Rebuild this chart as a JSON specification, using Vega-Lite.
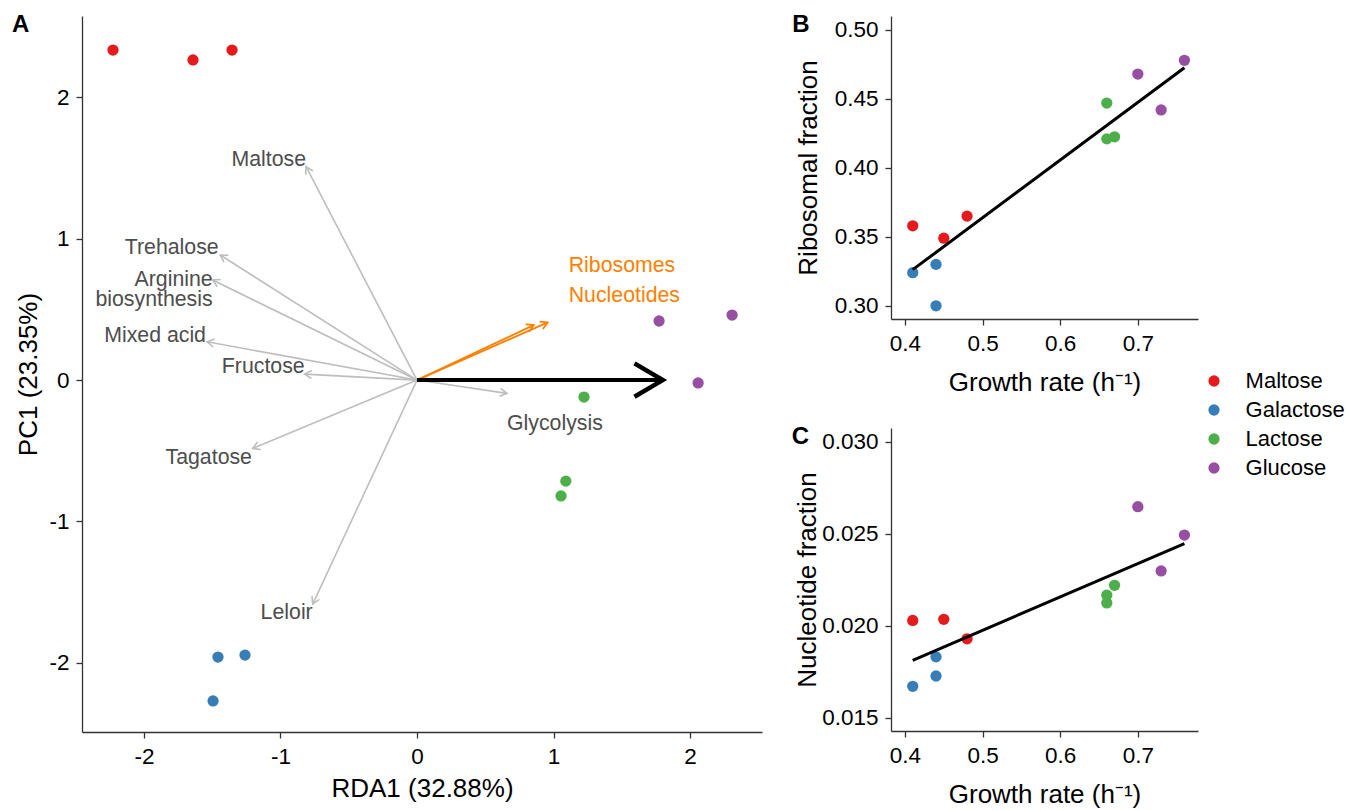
{
  "$schema": "https://vega.github.io/schema/vega-lite/v6.json",
  "autosize": {"type": "pad"},
  "padding": {"left": 11, "top": 13, "right": 5, "bottom": 5},
  "background": "white",
  "config": {
    "font": "Liberation Sans",
    "view": {"stroke": null},
    "axis": {
      "grid": false,
      "domainColor": "#333333",
      "domainWidth": 1.3,
      "tickColor": "#333333",
      "tickWidth": 1.3,
      "tickSize": 6,
      "labelFont": "Liberation Sans",
      "labelFontSize": 22.5,
      "labelColor": "#000000",
      "labelPadding": 7,
      "labelFlush": false,
      "labelOverlap": false,
      "titleFont": "Liberation Sans",
      "titleFontSize": 26,
      "titleFontWeight": "normal",
      "titleColor": "#000000"
    },
    "title": {
      "font": "Liberation Sans",
      "fontSize": 24,
      "fontWeight": "bold",
      "color": "#000000",
      "anchor": "start",
      "frame": "bounds"
    }
  },
  "datasets": {
    "samples": [
      {"sugar": "Maltose", "rda1": -2.227, "pc1": 2.335},
      {"sugar": "Maltose", "rda1": -1.641, "pc1": 2.265},
      {"sugar": "Maltose", "rda1": -1.355, "pc1": 2.335},
      {"sugar": "Galactose", "rda1": -1.458, "pc1": -1.96},
      {"sugar": "Galactose", "rda1": -1.26, "pc1": -1.946},
      {"sugar": "Galactose", "rda1": -1.494, "pc1": -2.27},
      {"sugar": "Lactose", "rda1": 1.223, "pc1": -0.12},
      {"sugar": "Lactose", "rda1": 1.09, "pc1": -0.715},
      {"sugar": "Lactose", "rda1": 1.055, "pc1": -0.82},
      {"sugar": "Glucose", "rda1": 1.773, "pc1": 0.418},
      {"sugar": "Glucose", "rda1": 2.308, "pc1": 0.46},
      {"sugar": "Glucose", "rda1": 2.059, "pc1": -0.02}
    ],
    "arrows": [
      {"name": "Maltose", "kind": "pathway", "x": -0.813, "y": 1.51},
      {"name": "Trehalose", "kind": "pathway", "x": -1.441, "y": 0.885},
      {"name": "Arginine biosynthesis", "kind": "pathway", "x": -1.497, "y": 0.708},
      {"name": "Mixed acid", "kind": "pathway", "x": -1.538, "y": 0.271},
      {"name": "Fructose", "kind": "pathway", "x": -0.823, "y": 0.042},
      {"name": "Tagatose", "kind": "pathway", "x": -1.204, "y": -0.484},
      {"name": "Leloir", "kind": "pathway", "x": -0.764, "y": -1.585},
      {"name": "Glycolysis", "kind": "pathway", "x": 0.659, "y": -0.094},
      {"name": "Ribosomes", "kind": "response", "x": 0.957, "y": 0.408},
      {"name": "Nucleotides", "kind": "response", "x": 0.855, "y": 0.389},
      {"name": "Growth rate", "kind": "growth", "x": 1.8, "y": 0}
    ],
    "labels": [
      {"label": "Maltose", "kind": "pathway", "lx": -0.813, "ly": 1.557},
      {"label": "Trehalose", "kind": "pathway", "lx": -1.453, "ly": 0.936},
      {"label": "Arginine\nbiosynthesis", "kind": "pathway", "lx": -1.497, "ly": 0.708},
      {"label": "Mixed acid", "kind": "pathway", "lx": -1.546, "ly": 0.315},
      {"label": "Fructose", "kind": "pathway", "lx": -0.823, "ly": 0.094},
      {"label": "Tagatose", "kind": "pathway", "lx": -1.209, "ly": -0.554},
      {"label": "Leloir", "kind": "pathway", "lx": -0.764, "ly": -1.647},
      {"label": "Glycolysis", "kind": "pathway", "lx": 0.659, "ly": -0.311},
      {"label": "Ribosomes", "kind": "response", "lx": 1.111, "ly": 0.809},
      {"label": "Nucleotides", "kind": "response", "lx": 1.111, "ly": 0.597}
    ],
    "growth": [
      {"sugar": "Maltose", "growth": 0.41, "ribo": 0.358, "nucl": 0.0203},
      {"sugar": "Maltose", "growth": 0.45, "ribo": 0.349, "nucl": 0.02036},
      {"sugar": "Maltose", "growth": 0.48, "ribo": 0.365, "nucl": 0.0193},
      {"sugar": "Galactose", "growth": 0.41, "ribo": 0.324, "nucl": 0.01672},
      {"sugar": "Galactose", "growth": 0.44, "ribo": 0.330, "nucl": 0.01832},
      {"sugar": "Galactose", "growth": 0.44, "ribo": 0.300, "nucl": 0.01728},
      {"sugar": "Lactose", "growth": 0.66, "ribo": 0.447, "nucl": 0.02167},
      {"sugar": "Lactose", "growth": 0.66, "ribo": 0.421, "nucl": 0.02125},
      {"sugar": "Lactose", "growth": 0.67, "ribo": 0.4225, "nucl": 0.02221},
      {"sugar": "Glucose", "growth": 0.70, "ribo": 0.468, "nucl": 0.02648},
      {"sugar": "Glucose", "growth": 0.73, "ribo": 0.442, "nucl": 0.02299},
      {"sugar": "Glucose", "growth": 0.76, "ribo": 0.478, "nucl": 0.02494}
    ]
  },
  "bounds": "flush",
  "spacing": 129,
  "resolve": {"scale": {"color": "shared"}},
  "hconcat": [
    {
      "width": 680,
      "height": 716,
      "title": {"text": "A", "fontSize": 24, "fontWeight": "bold", "baseline": "alphabetic", "dx": -4, "dy": 24, "offset": -16},
      "layer": [
        {
          "mark": {"type": "rule", "color": "#000000", "strokeWidth": 1.3, "strokeDash": [1.3, 4]},
          "encoding": {
            "x": {"datum": 0, "type": "quantitative", "scale": {"domain": [-2.454, 2.527], "nice": false, "zero": false},
                  "axis": {"values": [-2, -1, 0, 1, 2], "title": "RDA1 (32.88%)", "titlePadding": 8,
                           "labelExpr": "datum.value < 0 ? '-' + abs(datum.value) : '' + datum.value"}}
          }
        },
        {
          "mark": {"type": "rule", "color": "#000000", "strokeWidth": 1.3, "strokeDash": [1.3, 4]},
          "encoding": {
            "y": {"datum": 0, "type": "quantitative", "scale": {"domain": [-2.49, 2.576], "nice": false, "zero": false},
                  "axis": {"values": [-2, -1, 0, 1, 2], "title": "PC1 (23.35%)", "titlePadding": 7,
                           "labelExpr": "datum.value < 0 ? '-' + abs(datum.value) : '' + datum.value"}}
          }
        },
        {
          "data": {"name": "arrows"},
          "transform": [{"filter": "datum.kind == 'pathway'"}],
          "mark": {"type": "rule", "color": "#BEBEBE", "strokeWidth": 1.6},
          "encoding": {
            "x": {"field": "x", "type": "quantitative"},
            "y": {"field": "y", "type": "quantitative"},
            "x2": {"datum": 0},
            "y2": {"datum": 0}
          }
        },
        {
          "data": {"name": "arrows"},
          "transform": [
            {"filter": "datum.kind == 'pathway'"},
            {"calculate": "atan2(-datum.y * 1.035, datum.x) * 180 / PI", "as": "ang"}
          ],
          "mark": {"type": "point", "shape": "M-1,-0.577L0,0L-1,0.577", "filled": false, "stroke": "#BEBEBE", "strokeWidth": 1.6, "size": 196, "opacity": 1},
          "encoding": {
            "x": {"field": "x", "type": "quantitative"},
            "y": {"field": "y", "type": "quantitative"},
            "angle": {"field": "ang", "type": "quantitative", "scale": null}
          }
        },
        {
          "data": {"name": "arrows"},
          "transform": [{"filter": "datum.kind == 'response'"}],
          "mark": {"type": "rule", "color": "#FF7F00", "strokeWidth": 1.8},
          "encoding": {
            "x": {"field": "x", "type": "quantitative"},
            "y": {"field": "y", "type": "quantitative"},
            "x2": {"datum": 0},
            "y2": {"datum": 0}
          }
        },
        {
          "data": {"name": "arrows"},
          "transform": [
            {"filter": "datum.kind == 'response'"},
            {"calculate": "atan2(-datum.y * 1.035, datum.x) * 180 / PI", "as": "ang"}
          ],
          "mark": {"type": "point", "shape": "M-1,-0.577L0,0L-1,0.577", "filled": false, "stroke": "#FF7F00", "strokeWidth": 1.8, "size": 196, "opacity": 1},
          "encoding": {
            "x": {"field": "x", "type": "quantitative"},
            "y": {"field": "y", "type": "quantitative"},
            "angle": {"field": "ang", "type": "quantitative", "scale": null}
          }
        },
        {
          "data": {"name": "arrows"},
          "transform": [{"filter": "datum.kind == 'growth'"}],
          "mark": {"type": "rule", "color": "#000000", "strokeWidth": 4},
          "encoding": {
            "x": {"field": "x", "type": "quantitative"},
            "y": {"field": "y", "type": "quantitative"},
            "x2": {"datum": 0},
            "y2": {"datum": 0}
          }
        },
        {
          "data": {"name": "arrows"},
          "transform": [
            {"filter": "datum.kind == 'growth'"},
            {"calculate": "atan2(-datum.y * 1.035, datum.x) * 180 / PI", "as": "ang"}
          ],
          "mark": {"type": "point", "shape": "M-1,-0.59L0,0L-1,0.59", "filled": false, "stroke": "#000000", "strokeWidth": 4.5, "size": 3200, "opacity": 1},
          "encoding": {
            "x": {"field": "x", "type": "quantitative"},
            "y": {"field": "y", "type": "quantitative"},
            "angle": {"field": "ang", "type": "quantitative", "scale": null}
          }
        },
        {
          "data": {"name": "samples"},
          "mark": {"type": "circle", "size": 127, "opacity": 1},
          "encoding": {
            "x": {"field": "rda1", "type": "quantitative"},
            "y": {"field": "pc1", "type": "quantitative"},
            "color": {"field": "sugar", "type": "nominal",
                      "scale": {"domain": ["Maltose", "Galactose", "Lactose", "Glucose"], "range": ["#E41A1C", "#377EB8", "#4DAF4A", "#984EA3"]},
                      "legend": {"orient": "none", "legendX": 1121, "legendY": 354, "title": null, "padding": 0,
                                 "labelFont": "Liberation Sans", "labelFontSize": 22, "labelColor": "#000000",
                                 "symbolSize": 127, "symbolType": "circle", "symbolStrokeWidth": 0,
                                 "labelOffset": 20.6, "rowPadding": 7}}
          }
        },
        {
          "data": {"name": "labels"},
          "transform": [{"filter": "datum.kind == 'pathway' && datum.lx < 0"}],
          "mark": {"type": "text", "align": "right", "baseline": "middle", "fontSize": 21.3, "color": "#4D4D4D", "lineBreak": "\n", "lineHeight": 20},
          "encoding": {
            "x": {"field": "lx", "type": "quantitative"},
            "y": {"field": "ly", "type": "quantitative"},
            "text": {"field": "label"}
          }
        },
        {
          "data": {"name": "labels"},
          "transform": [{"filter": "datum.kind == 'pathway' && datum.lx >= 0"}],
          "mark": {"type": "text", "align": "left", "baseline": "middle", "fontSize": 21.3, "color": "#4D4D4D"},
          "encoding": {
            "x": {"field": "lx", "type": "quantitative"},
            "y": {"field": "ly", "type": "quantitative"},
            "text": {"field": "label"}
          }
        },
        {
          "data": {"name": "labels"},
          "transform": [{"filter": "datum.kind == 'response'"}],
          "mark": {"type": "text", "align": "left", "baseline": "middle", "fontSize": 21.3, "color": "#FF7F00"},
          "encoding": {
            "x": {"field": "lx", "type": "quantitative"},
            "y": {"field": "ly", "type": "quantitative"},
            "text": {"field": "label"}
          }
        }
      ]
    },
    {
      "bounds": "flush",
      "spacing": 109,
      "vconcat": [
        {
          "width": 307,
          "height": 303,
          "title": {"text": "B", "fontSize": 24, "fontWeight": "bold", "baseline": "alphabetic", "dx": -3, "dy": 24, "offset": -16},
          "data": {"name": "growth"},
          "layer": [
            {
              "mark": {"type": "circle", "size": 127, "opacity": 1},
              "encoding": {
                "x": {"field": "growth", "type": "quantitative", "scale": {"domain": [0.382, 0.7775], "nice": false, "zero": false},
                      "axis": {"values": [0.4, 0.5, 0.6, 0.7], "format": ".1f", "title": "Growth rate (h⁻¹)", "titlePadding": 14.5}},
                "y": {"field": "ribo", "type": "quantitative", "scale": {"domain": [0.2904, 0.5101], "nice": false, "zero": false},
                      "axis": {"values": [0.30, 0.35, 0.40, 0.45, 0.50], "format": ".2f", "title": "Ribosomal fraction", "titlePadding": 13}},
                "color": {"field": "sugar", "type": "nominal",
                          "scale": {"domain": ["Maltose", "Galactose", "Lactose", "Glucose"], "range": ["#E41A1C", "#377EB8", "#4DAF4A", "#984EA3"]}}
              }
            },
            {
              "transform": [{"regression": "ribo", "on": "growth"}],
              "mark": {"type": "line", "color": "#000000", "strokeWidth": 3},
              "encoding": {
                "x": {"field": "growth", "type": "quantitative"},
                "y": {"field": "ribo", "type": "quantitative"}
              }
            }
          ]
        },
        {
          "width": 307,
          "height": 303,
          "title": {"text": "C", "fontSize": 24, "fontWeight": "bold", "baseline": "alphabetic", "dx": -3, "dy": 24, "offset": -16},
          "data": {"name": "growth"},
          "layer": [
            {
              "mark": {"type": "circle", "size": 127, "opacity": 1},
              "encoding": {
                "x": {"field": "growth", "type": "quantitative", "scale": {"domain": [0.382, 0.7775], "nice": false, "zero": false},
                      "axis": {"values": [0.4, 0.5, 0.6, 0.7], "format": ".1f", "title": "Growth rate (h⁻¹)", "titlePadding": 14.5}},
                "y": {"field": "nucl", "type": "quantitative", "scale": {"domain": [0.01429, 0.03076], "nice": false, "zero": false},
                      "axis": {"values": [0.015, 0.020, 0.025, 0.030], "format": ".3f", "title": "Nucleotide fraction", "titlePadding": 1}},
                "color": {"field": "sugar", "type": "nominal",
                          "scale": {"domain": ["Maltose", "Galactose", "Lactose", "Glucose"], "range": ["#E41A1C", "#377EB8", "#4DAF4A", "#984EA3"]}}
              }
            },
            {
              "transform": [{"regression": "nucl", "on": "growth"}],
              "mark": {"type": "line", "color": "#000000", "strokeWidth": 3},
              "encoding": {
                "x": {"field": "growth", "type": "quantitative"},
                "y": {"field": "nucl", "type": "quantitative"}
              }
            }
          ]
        }
      ]
    }
  ]
}
